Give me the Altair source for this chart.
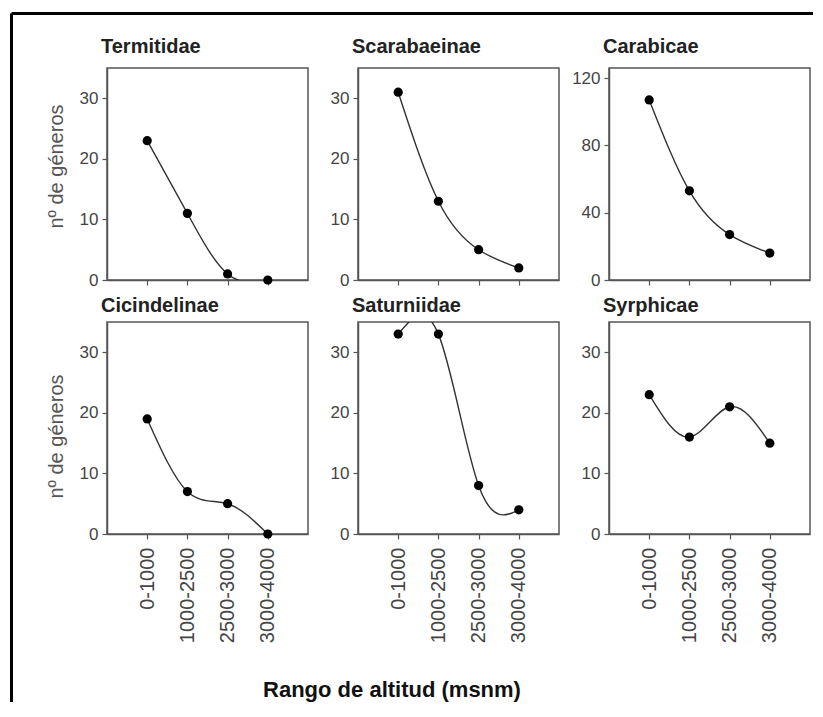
import altair as alt
import pandas as pd

# ---- data ----
rangos = ["0-1000", "1000-2500", "2500-3000", "3000-4000"]
familias = ["Termitidae", "Scarabaeinae", "Carabicae",
            "Cicindelinae", "Saturniidae", "Syrphicae"]
termitidae = [23, 11, 1, 0]
scarabaeinae = [31, 13, 5, 2]
carabicae = [107, 53, 27, 16]
cicindelinae = [19, 7, 5, 0]
saturniidae = [33, 33, 8, 4]
syrphicae = [23, 16, 21, 15]
ticks_35 = [0, 10, 20, 30]
ticks_126 = [0, 40, 80, 120]
y_title = "nº de géneros"
x_title = "Rango de altitud (msnm)"

FONT = "Liberation Sans"
GRAY = "#555555"

series = [termitidae, scarabaeinae, carabicae, cicindelinae, saturniidae, syrphicae]
ymaxes = [35, 35, 126, 35, 35, 35]
yticks = [ticks_35, ticks_35, ticks_126, ticks_35, ticks_35, ticks_35]


def panel(i):
    row, col = divmod(i, 3)
    df = pd.DataFrame({"rango": rangos, "n": series[i]})
    xaxis = alt.Axis(title=None, labels=(row == 1), labelAngle=270,
                     labelAlign="right", labelBaseline="middle",
                     labelPadding=8, labelFontSize=20, ticks=True)
    ykw = dict(values=yticks[i], labelPadding=4)
    if col == 0:
        ykw.update(title=y_title, titleX=-51, titleY=(98 if row == 0 else 114),
                   titleAngle=270, titleAlign="center", titleBaseline="middle",
                   titleFontSize=20, titleFontWeight="normal",
                   titleColor=GRAY, titleFont=FONT)
    else:
        ykw.update(title=None)
    base = alt.Chart(df).encode(
        x=alt.X("rango:N", sort=rangos,
                scale=alt.Scale(type="point", padding=1.05), axis=xaxis),
        y=alt.Y("n:Q", scale=alt.Scale(domain=[0, ymaxes[i]], nice=False),
                axis=alt.Axis(**ykw)),
    )
    line = base.mark_line(interpolate="natural", clip=True,
                          color="#333333", strokeWidth=1.4)
    pts = base.mark_circle(size=85, color="black", opacity=1)
    return alt.layer(line, pts).properties(
        width=201, height=212,
        title=alt.TitleParams(familias[i], anchor="start", frame="group", dx=-6,
                              offset=-4.5 if row == 0 else -9.5,
                              baseline="alphabetic", fontSize=20,
                              fontWeight="bold", font=FONT, color="#222222"),
    )


panels = [panel(i) for i in range(6)]

# frame of the figure (left and top black border) and the shared x title,
# drawn in an extra empty cell below the grid
deco = pd.DataFrame({"t": [x_title]})
top_rule = alt.Chart(deco).mark_rule(color="black", strokeWidth=3).encode(
    x=alt.value(-95.5), x2=alt.value(706), y=alt.value(-562.5))
left_rule = alt.Chart(deco).mark_rule(color="black", strokeWidth=3).encode(
    x=alt.value(-95.5), y=alt.value(-562.5), y2=alt.value(126))
xlab = alt.Chart(deco).mark_text(
    font=FONT, fontSize=22, fontWeight="bold", color="#111111",
    align="center", baseline="middle"
).encode(x=alt.value(285), y=alt.value(114), text="t:N")
deco_cell = alt.layer(top_rule, left_rule, xlab).properties(
    width=1, height=1, view=alt.ViewBackground(stroke=None))

chart = alt.concat(
    *panels, deco_cell, columns=3, spacing={"row": 42, "column": 50},
    bounds="flush"
).properties(
    padding={"left": 2, "top": 4, "right": 0, "bottom": 0},
).configure_view(
    stroke=GRAY, strokeWidth=1.5
).configure_axis(
    domainColor=GRAY, domainWidth=1.5, tickColor=GRAY, tickWidth=1.2,
    tickSize=5, labelColor="#444444", labelFont=FONT, labelFontSize=17,
    grid=False
)

chart.save("out.html", embed_options={"renderer": "svg", "actions": False})
